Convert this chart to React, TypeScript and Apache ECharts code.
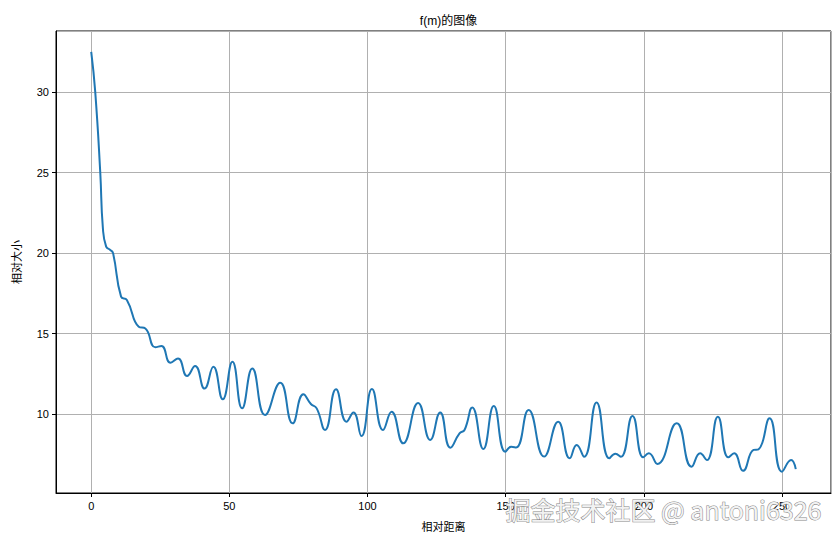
import React, { useEffect, useRef } from "react";
import * as echarts from "echarts";

const distances: number[] = [
  0, 1.45, 3.27, 4.2, 5.4, 6.9, 7.9, 10.8, 12.9, 17.2, 19.6, 23.2, 25.4, 28.7, 31.4, 34.7, 37.6,
  41.0, 44.2, 47.6, 51.1, 54.6, 58.3, 62.9, 68.4, 72.9, 76.8, 79.5, 81.6, 84.6, 88.6, 92.4, 94.9,
  97.8, 101.6, 105.6, 108.7, 112.9, 118.3, 122.7, 126.3, 130.0, 133.3, 135.1, 137.9, 141.9, 145.7,
  149.9, 152.0, 153.8, 158.3, 163.9, 169.0, 173.2, 175.7, 178.4, 182.9, 187.5, 189.7, 191.7, 195.9,
  199.8, 201.8, 204.9, 211.9, 217.3, 220.4, 222.8, 226.8, 230.6, 232.7, 235.9, 239.7, 241.5, 245.5,
  250.0, 253.3, 255,
];
const magnitudes: number[] = [
  32.49, 30.0, 25.0, 21.6, 20.4, 20.2, 20.0, 17.3, 17.1, 15.43, 15.33, 14.16, 14.24, 13.2, 13.47,
  12.38, 13.0, 11.6, 12.95, 10.93, 13.26, 10.37, 12.85, 9.96, 11.96, 9.44, 11.24, 10.64, 10.37, 9.03,
  11.55, 9.54, 10.12, 8.65, 11.57, 9.03, 10.16, 8.2, 10.7, 8.41, 10.12, 7.93, 8.82, 9.03, 10.43, 7.85,
  10.51, 7.68, 7.99, 7.95, 10.27, 7.38, 9.54, 7.27, 8.1, 7.37, 10.74, 7.27, 7.56, 7.37, 9.9, 7.33,
  7.58, 6.92, 9.44, 6.75, 7.58, 7.16, 9.85, 7.33, 7.58, 6.5, 7.79, 7.83, 9.75, 6.44, 7.16, 6.6,
];

const titleText = "f(m)的图像";
const xName = "相对距离";
const yName = "相对大小";
const watermark = "掘金技术社区 @ antoni6326";

const FONT = "'Liberation Sans', 'Noto Sans CJK SC', sans-serif";

export default function App() {
  const ref = useRef<HTMLDivElement>(null);
  useEffect(() => {
    document.body.style.margin = "0";
    if (!ref.current) return;
    const chart = echarts.init(ref.current, undefined, { renderer: "svg" });
    const data = distances.map((d, i) => [d, magnitudes[i]]);
    chart.setOption({
      animation: false,
      backgroundColor: "#ffffff",
      title: {
        text: titleText,
        left: 443.5,
        textAlign: "center",
        top: 10,
        textStyle: { fontSize: 12, fontWeight: "normal", color: "#000", fontFamily: FONT },
      },
      grid: {
        left: 56,
        right: 9,
        top: 31,
        bottom: 50,
        show: true,
        borderColor: "#000",
        borderWidth: 1,
        backgroundColor: "transparent",
      },
      xAxis: {
        type: "value",
        min: -12.75,
        max: 267.75,
        splitNumber: 5,
        name: xName,
        nameLocation: "middle",
        nameGap: 28,
        nameTextStyle: { fontSize: 11, color: "#000", fontFamily: FONT },
        axisLine: { show: true, onZero: false, lineStyle: { color: "#000", width: 1 } },
        axisTick: { show: true, length: 4, lineStyle: { color: "#000" } },
        axisLabel: {
          showMinLabel: false,
          showMaxLabel: false,
          fontSize: 11,
          color: "#000",
          margin: 7,
          fontFamily: FONT,
        },
        splitLine: { show: true, lineStyle: { color: "#b0b0b0", width: 1 } },
      },
      yAxis: {
        type: "value",
        min: 5.12,
        max: 33.78,
        splitNumber: 5,
        name: yName,
        nameLocation: "middle",
        nameGap: 34,
        nameRotate: 90,
        nameTextStyle: { fontSize: 11, color: "#000", fontFamily: FONT },
        axisLine: { show: true, onZero: false, lineStyle: { color: "#000", width: 1 } },
        axisTick: { show: true, length: 4, lineStyle: { color: "#000" } },
        axisLabel: {
          showMinLabel: false,
          showMaxLabel: false,
          fontSize: 11,
          color: "#000",
          margin: 7,
          fontFamily: FONT,
        },
        splitLine: { show: true, lineStyle: { color: "#b0b0b0", width: 1 } },
      },
      series: [
        {
          type: "line",
          data,
          smooth: 0.5,
          showSymbol: false,
          lineStyle: { color: "#1f77b4", width: 2 },
          itemStyle: { color: "#1f77b4" },
        },
      ],
      graphic: [
        {
          type: "text",
          right: 18,
          top: 496,
          z: 100,
          style: {
            text: watermark,
            font: "25px 'Noto Sans CJK SC', sans-serif",
            fill: "#f2f2f2",
            stroke: "#858585",
            lineWidth: 1,
            shadowColor: "rgba(0,0,0,0.45)",
            shadowBlur: 2,
            shadowOffsetX: 1,
            shadowOffsetY: 1,
          },
        },
      ],
    });
    return () => chart.dispose();
  }, []);
  return <div ref={ref} style={{ width: 840, height: 543 }} />;
}
